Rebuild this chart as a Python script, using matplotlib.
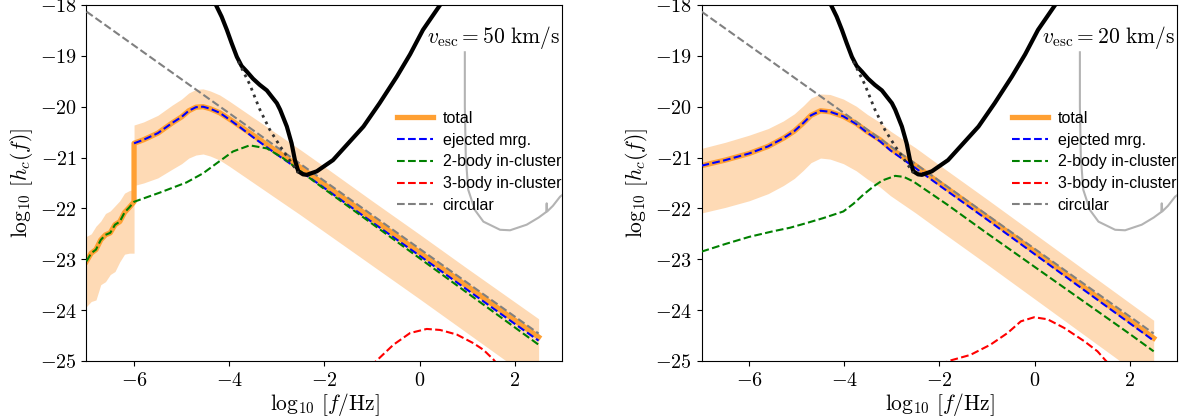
import matplotlib
matplotlib.use("Agg")
import matplotlib.pyplot as plt
from matplotlib.ticker import FuncFormatter, FixedLocator

plt.rcParams['mathtext.fontset'] = 'cm'
plt.rcParams['font.family'] = ['Liberation Sans', 'DejaVu Sans']

# ---------------- data: left panel (v_esc = 50 km/s) ----------------
L_x = [-7.0, -6.9, -6.8, -6.7, -6.6, -6.5, -6.4, -6.3, -6.2, -6.1, -6.0,
       -6.0, -5.8, -5.5, -5.2, -5.0, -4.85, -4.7, -4.55, -4.4, -4.2, -4.0,
       -3.75, -3.5, -3.25, -3.0, -2.75, -2.5, -2.0, -1.0, 0.0, 1.0, 2.0, 2.5]
L_total = [-23.04, -22.88, -22.81, -22.62, -22.52, -22.48, -22.32, -22.26, -22.08, -21.98, -21.87,
           -20.72, -20.65, -20.52, -20.32, -20.20, -20.08, -20.01, -20.00, -20.04, -20.12, -20.24,
           -20.40, -20.56, -20.72, -20.88, -21.04, -21.20, -21.53, -22.20, -22.87, -23.53, -24.20, -24.53]
L_upper = [-22.55, -22.50, -22.35, -22.25, -22.10, -22.05, -21.95, -21.85, -21.70, -21.65, -21.63,
           -20.36, -20.30, -20.17, -19.97, -19.85, -19.73, -19.66, -19.65, -19.69, -19.77, -19.89,
           -20.05, -20.21, -20.37, -20.53, -20.69, -20.85, -21.18, -21.85, -22.51, -23.18, -23.84, -24.17]
L_lower = [-23.93, -23.83, -23.80, -23.50, -23.44, -23.30, -23.24, -23.05, -22.90, -22.88, -22.88,
           -21.55, -21.50, -21.40, -21.23, -21.12, -21.01, -20.95, -20.93, -20.97, -21.05, -21.17,
           -21.33, -21.49, -21.65, -21.81, -21.97, -22.13, -22.46, -23.12, -23.78, -24.45, -25.12, -25.45]
L_ej_x = [-6.0, -5.8, -5.5, -5.2, -5.0, -4.85, -4.7, -4.55, -4.4, -4.2, -4.0,
          -3.75, -3.5, -3.25, -3.0, -2.75, -2.5, -2.0, -1.0, 0.0, 1.0, 2.0, 2.5]
L_ej = [-20.72, -20.65, -20.52, -20.32, -20.20, -20.08, -20.01, -20.00, -20.04, -20.12, -20.25,
        -20.42, -20.60, -20.77, -20.94, -21.10, -21.27, -21.60, -22.27, -22.93, -23.60, -24.27, -24.60]
L_2b_x = [-7.0, -6.9, -6.8, -6.7, -6.6, -6.5, -6.4, -6.3, -6.2, -6.1, -6.0,
          -5.46, -4.9, -4.55, -4.26, -3.92, -3.57, -3.21, -2.87, -2.5, -2.0, -1.0, 0.0, 1.0, 2.0, 2.5]
L_2b = [-23.04, -22.88, -22.81, -22.62, -22.52, -22.48, -22.32, -22.26, -22.08, -21.98, -21.87,
        -21.69, -21.49, -21.31, -21.11, -20.88, -20.76, -20.82, -21.01, -21.27, -21.62, -22.30,
        -22.98, -23.66, -24.34, -24.68]
L_3b_x = [-1.2, -0.9, -0.55, -0.2, 0.15, 0.43, 0.78, 1.13, 1.34, 1.55, 1.8]
L_3b = [-25.25, -24.99, -24.68, -24.45, -24.37, -24.39, -24.48, -24.65, -24.78, -24.97, -25.25]

# ---------------- data: right panel (v_esc = 20 km/s) ----------------
R_x = [-7.0, -6.5, -6.0, -5.6, -5.28, -5.05, -4.86, -4.7, -4.5, -4.3, -4.02, -3.75,
       -3.52, -3.25, -3.03, -2.5, -2.0, -1.0, 0.0, 1.0, 2.0, 2.5]
R_total = [-21.16, -21.05, -20.92, -20.78, -20.62, -20.48, -20.32, -20.17, -20.08, -20.10, -20.19,
           -20.33, -20.49, -20.65, -20.82, -21.16, -21.50, -22.17, -22.85, -23.53, -24.21, -24.55]
R_upper = [-20.82, -20.70, -20.56, -20.43, -20.28, -20.14, -19.98, -19.83, -19.75, -19.76, -19.85,
           -19.99, -20.15, -20.31, -20.48, -20.81, -21.15, -21.82, -22.50, -23.18, -23.86, -24.20]
R_lower = [-22.09, -21.98, -21.85, -21.71, -21.55, -21.41, -21.25, -21.10, -21.01, -21.03, -21.12,
           -21.26, -21.42, -21.58, -21.75, -22.09, -22.43, -23.10, -23.78, -24.46, -25.14, -25.48]
R_ej = [-21.16, -21.05, -20.92, -20.78, -20.62, -20.48, -20.32, -20.17, -20.08, -20.10, -20.19,
        -20.34, -20.51, -20.68, -20.86, -21.21, -21.55, -22.22, -22.90, -23.58, -24.26, -24.60]
R_2b_x = [-7.0, -6.5, -6.0, -5.5, -5.14, -4.8, -4.44, -4.02, -3.81, -3.6, -3.39, -3.2, -2.93,
          -2.75, -2.55, -2.19, -1.83, -1.0, 0.0, 1.0, 2.0, 2.5]
R_2b = [-22.85, -22.70, -22.56, -22.45, -22.38, -22.29, -22.19, -22.06, -21.91, -21.73, -21.57,
        -21.45, -21.36, -21.38, -21.47, -21.70, -21.93, -22.49, -23.15, -23.81, -24.47, -24.81]
R_3b_x = [-2.2, -1.77, -1.35, -0.93, -0.57, -0.29, -0.01, 0.27, 0.62, 1.04, 1.32, 1.49, 1.8]
R_3b = [-25.15, -24.99, -24.88, -24.68, -24.45, -24.22, -24.14, -24.18, -24.35, -24.61, -24.81,
        -24.99, -25.3]

# ---------------- shared curves ----------------
circ_x = [-7.0, 2.5]
circ_y = [-18.13, -24.46]
sens_x = [-4.32, -4.28, -4.16, -4.05, -3.95, -3.84, -3.74, -3.63, -3.5, -3.36, -3.21, -3.11,
          -3.0, -2.93, -2.79, -2.69, -2.62, -2.55, -2.45, -2.37, -2.16, -1.82, -1.5, -1.18,
          -0.84, -0.48, -0.2, 0.07, 0.43, 0.55]
sens_y = [-17.9, -18.0, -18.23, -18.49, -18.75, -19.02, -19.2, -19.31, -19.45, -19.57, -19.68,
          -19.80, -19.93, -20.06, -20.39, -20.72, -21.05, -21.27, -21.33, -21.34, -21.27, -21.05,
          -20.72, -20.39, -19.93, -19.41, -18.97, -18.49, -18.0, -17.8]
dot_x = [-3.81, -3.57, -3.36, -3.15, -2.93, -2.66, -2.55]
dot_y = [-19.11, -19.56, -20.05, -20.45, -20.78, -21.15, -21.3]
ligo_x = [0.95, 0.95, 0.97, 1.02, 1.16, 1.34, 1.69, 1.90, 2.25, 2.5, 2.66, 2.67, 2.68, 2.8, 2.95, 3.05]
ligo_y = [-18.93, -20.0, -20.98, -21.63, -22.03, -22.26, -22.42, -22.43, -22.32, -22.18, -22.07,
          -21.9, -22.06, -21.95, -21.77, -21.7]

panels = [
    dict(x=L_x, total=L_total, up=L_upper, lo=L_lower, ejx=L_ej_x, ej=L_ej,
         bx=L_2b_x, b2=L_2b, tx=L_3b_x, b3=L_3b, label=r'$v_{\rm esc} = 50~{\rm km/s}$'),
    dict(x=R_x, total=R_total, up=R_upper, lo=R_lower, ejx=R_x, ej=R_ej,
         bx=R_2b_x, b2=R_2b, tx=R_3b_x, b3=R_3b, label=r'$v_{\rm esc} = 20~{\rm km/s}$'),
]

xticks = [-6, -4, -2, 0, 2]
yticks = [-25, -24, -23, -22, -21, -20, -19, -18]

fig = plt.figure(figsize=(11.86, 4.18), dpi=100)
axes = [fig.add_axes([0.0729, 0.1364, 0.4013, 0.8517]),
        fig.add_axes([0.5915, 0.1364, 0.4013, 0.8517])]

fmt = FuncFormatter(lambda v, p: r'$%d$' % int(round(v)))

for ax, d in zip(axes, panels):
    ax.fill_between(d['x'], d['lo'], d['up'], color='#fedab5', lw=0, zorder=1)
    ax.plot(d['x'], d['total'], color='#ffa033', lw=3.8, label='total', zorder=2)
    ax.plot(d['ejx'], d['ej'], color='blue', ls='--', lw=1.5, label='ejected mrg.', zorder=3)
    ax.plot(d['bx'], d['b2'], color='green', ls='--', lw=1.5, label='2-body in-cluster', zorder=3)
    ax.plot(d['tx'], d['b3'], color='red', ls='--', lw=1.5, label='3-body in-cluster', zorder=3)
    ax.plot(circ_x, circ_y, color='gray', ls='--', lw=1.5, label='circular', zorder=4)
    ax.plot(sens_x, sens_y, color='black', lw=3, zorder=5)
    ax.plot(dot_x, dot_y, color='#333333', ls=':', lw=2, zorder=5)
    ax.plot(ligo_x, ligo_y, color='#b3b3b3', lw=1.5, zorder=5)
    ax.text(0.994, 0.91, d['label'], transform=ax.transAxes, ha='right', va='center',
            fontsize=15.5, zorder=6)
    ax.set_xlim(-7, 3)
    ax.set_ylim(-25, -18)
    ax.xaxis.set_major_locator(FixedLocator(xticks))
    ax.yaxis.set_major_locator(FixedLocator(yticks))
    ax.xaxis.set_major_formatter(fmt)
    ax.yaxis.set_major_formatter(fmt)
    ax.tick_params(labelsize=14.5)
    ax.set_xlabel(r'$\log_{10}\,[f/{\rm Hz}]$', fontsize=15.5, labelpad=1)
    ax.set_ylabel(r'$\log_{10}\,[h_c(f)]$', fontsize=15.5, labelpad=3)
    ax.legend(loc='center left', bbox_to_anchor=(0.639, 0.559), borderaxespad=0,
              frameon=False, fontsize=11.5, labelspacing=0.42, handlelength=2.25,
              handletextpad=0.62)

fig.savefig('out.png', dpi=100)
